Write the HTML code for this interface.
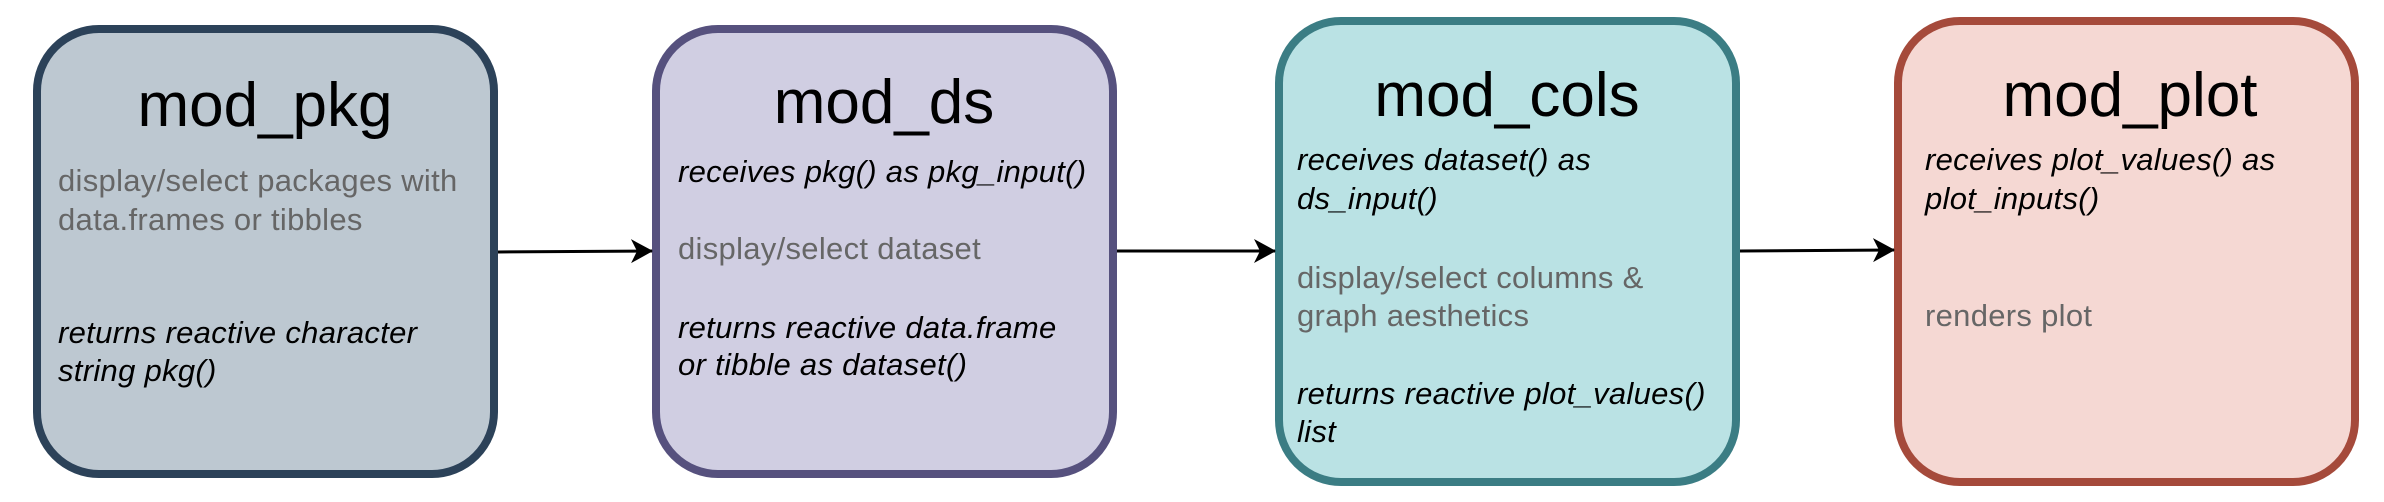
<!DOCTYPE html>
<html><head><meta charset="utf-8"><style>
html,body{margin:0;padding:0;background:#fff;}
svg{display:block;}
text{font-family:"Liberation Sans","DejaVu Sans",sans-serif;}
.t{font-size:62px;fill:#000;text-anchor:middle;}
.g{font-size:31px;fill:#666;letter-spacing:0.3px;}
.i{font-size:31px;fill:#000;font-style:italic;letter-spacing:0.3px;}
</style></head><body>
<svg width="2384" height="502" viewBox="0 0 2384 502" xmlns="http://www.w3.org/2000/svg">
<defs><marker id="a" markerWidth="24" markerHeight="26" refX="21" refY="13" orient="auto" markerUnits="userSpaceOnUse"><path d="M0,1 L22,13 L0,25 L6,13 Z" fill="#000"/></marker></defs>
<rect x="37" y="29" width="457" height="445" rx="62" fill="#bdc8d1" stroke="#2c4259" stroke-width="8"/>
<rect x="656" y="29" width="457" height="445" rx="62" fill="#d0cee2" stroke="#56517e" stroke-width="8"/>
<rect x="1279" y="21" width="457" height="461" rx="62" fill="#bae2e4" stroke="#3b7d84" stroke-width="8"/>
<rect x="1898" y="21" width="457" height="461" rx="62" fill="#f5d8d3" stroke="#a54a3b" stroke-width="8"/>
<path d="M498,252 L652,251" stroke="#000" stroke-width="3" marker-end="url(#a)"/>
<path d="M1117,251 L1275,251" stroke="#000" stroke-width="3" marker-end="url(#a)"/>
<path d="M1740,251 L1894,250" stroke="#000" stroke-width="3" marker-end="url(#a)"/>
<text class="t" x="265" y="126">mod_pkg</text>
<text class="g" x="58" y="191">display/select packages with</text>
<text class="g" x="58" y="230">data.frames or tibbles</text>
<text class="i" x="58" y="343">returns reactive character</text>
<text class="i" x="58" y="381">string pkg()</text>
<text class="t" x="884" y="123">mod_ds</text>
<text class="i" x="678" y="182">receives pkg() as pkg_input()</text>
<text class="g" x="678" y="259">display/select dataset</text>
<text class="i" x="678" y="338">returns reactive data.frame</text>
<text class="i" x="678" y="375">or tibble as dataset()</text>
<text class="t" x="1507" y="116">mod_cols</text>
<text class="i" x="1297" y="170">receives dataset() as</text>
<text class="i" x="1297" y="209">ds_input()</text>
<text class="g" x="1297" y="288">display/select columns &amp;</text>
<text class="g" x="1297" y="326">graph aesthetics</text>
<text class="i" x="1297" y="404">returns reactive plot_values()</text>
<text class="i" x="1297" y="442">list</text>
<text class="t" x="2130" y="116">mod_plot</text>
<text class="i" x="1925" y="170">receives plot_values() as</text>
<text class="i" x="1925" y="209">plot_inputs()</text>
<text class="g" x="1925" y="326">renders plot</text>
</svg>
</body></html>
